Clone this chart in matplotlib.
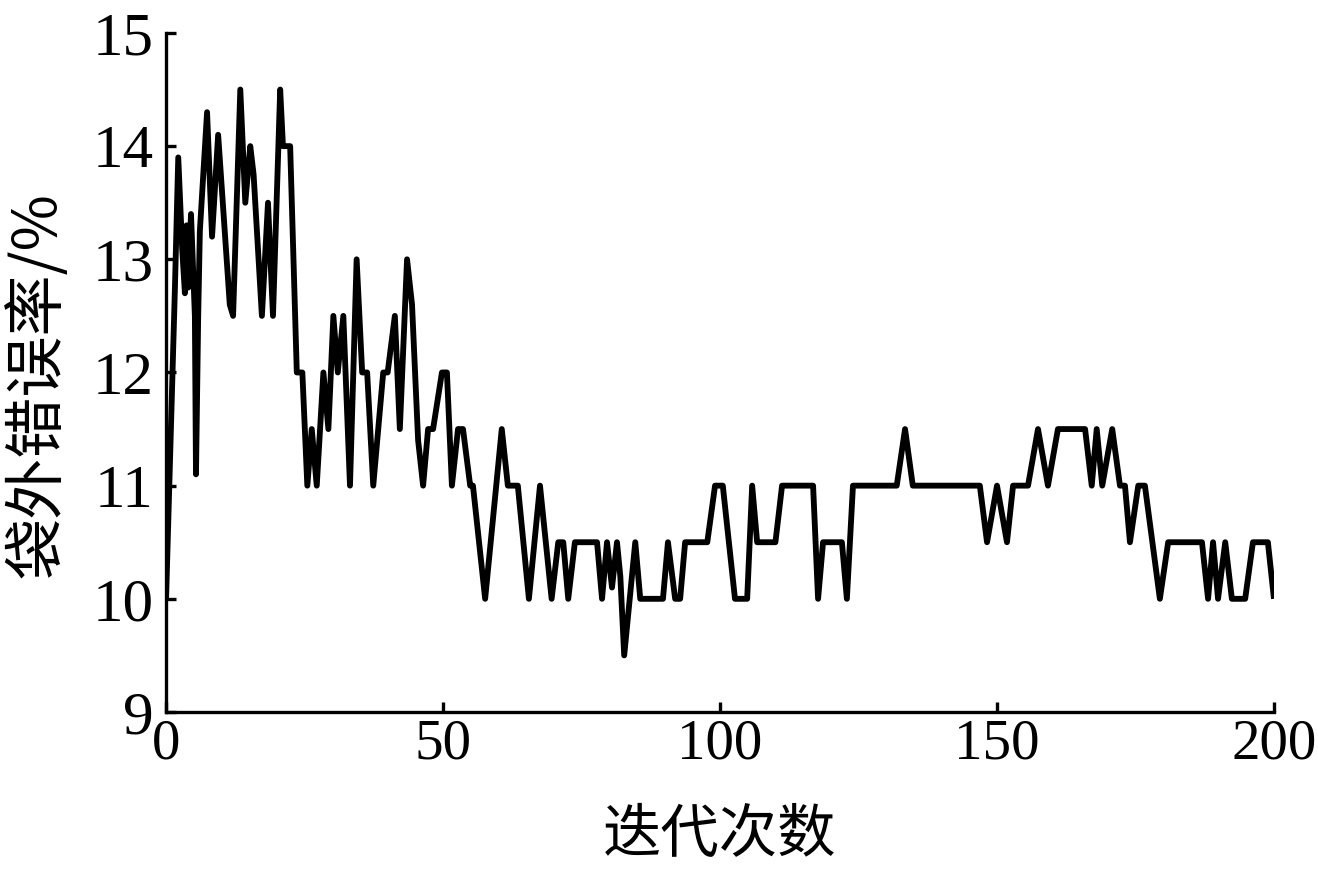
import matplotlib
matplotlib.use("Agg")
import matplotlib.pyplot as plt

# vertices of the OOB-error curve
ITER = [0, 0.7, 1.6, 2.2, 2.9, 3.4, 3.7, 4.0, 4.5, 5.2,
        5.4, 5.8, 6.1, 7.4, 8.3, 9.4, 10.1, 11.5, 12.1, 13.4,
        14.3, 15.2, 15.8, 17.3, 18.4, 19.3, 20.6, 21.1, 22.4, 23.6,
        24.6, 25.5, 26.3, 27.2, 28.4, 29.3, 30.2, 31.0, 32.0, 33.2,
        34.4, 35.4, 36.3, 37.4, 39.2, 40.0, 41.3, 42.2, 43.5, 44.4,
        45.5, 46.4, 47.3, 48.2, 49.8, 50.7, 51.6, 52.7, 53.6, 54.9,
        55.4, 57.6, 60.6, 61.7, 63.5, 65.5, 67.5, 69.6, 70.8, 71.7,
        72.6, 73.8, 77.8, 78.7, 79.6, 80.5, 81.4, 82.0, 82.7, 84.7,
        85.6, 89.7, 90.6, 91.9, 92.8, 93.7, 97.7, 99.1, 100.5, 102.7,
        104.9, 105.8, 106.7, 110.0, 111.2, 116.8, 117.7, 118.6, 122.0, 122.9,
        124.0, 131.9, 133.4, 134.8, 146.9, 148.2, 150.0, 151.8, 152.9, 155.6,
        157.4, 159.2, 161.0, 165.9, 167.1, 168.0, 169.0, 170.8, 172.2, 173.1,
        174.0, 175.5, 176.7, 179.4, 180.9, 187.0, 188.1, 189.0, 189.9, 191.2,
        192.4, 194.8, 196.2, 198.9, 200.0]

OOB = [10, 11.2, 12.75, 13.9, 13.1, 12.7, 13.3, 12.75, 13.4, 12.5,
       11.1, 12.5, 13.25, 14.3, 13.2, 14.1, 13.6, 12.6, 12.5, 14.5,
       13.5, 14.0, 13.75, 12.5, 13.5, 12.5, 14.5, 14.0, 14.0, 12.0,
       12.0, 11.0, 11.5, 11.0, 12.0, 11.5, 12.5, 12.0, 12.5, 11.0,
       13.0, 12.0, 12.0, 11.0, 12.0, 12.0, 12.5, 11.5, 13.0, 12.6,
       11.4, 11.0, 11.5, 11.5, 12.0, 12.0, 11.0, 11.5, 11.5, 11.0,
       11.0, 10.0, 11.5, 11.0, 11.0, 10.0, 11.0, 10.0, 10.5, 10.5,
       10.0, 10.5, 10.5, 10.0, 10.5, 10.1, 10.5, 10.2, 9.5, 10.5,
       10.0, 10.0, 10.5, 10.0, 10.0, 10.5, 10.5, 11.0, 11.0, 10.0,
       10.0, 11.0, 10.5, 10.5, 11.0, 11.0, 10.0, 10.5, 10.5, 10.0,
       11.0, 11.0, 11.5, 11.0, 11.0, 10.5, 11.0, 10.5, 11.0, 11.0,
       11.5, 11.0, 11.5, 11.5, 11.0, 11.5, 11.0, 11.5, 11.0, 11.0,
       10.5, 11.0, 11.0, 10.0, 10.5, 10.5, 10.0, 10.5, 10.0, 10.5,
       10.0, 10.0, 10.5, 10.5, 10.0]

XTICKS = [0, 50, 100, 150, 200]
YTICKS = [9, 10, 11, 12, 13, 14, 15]
XLABEL = "迭代次数"
YLABEL = "袋外错误率/%"

CJK = ["Noto Sans CJK SC", "DejaVu Sans"]
SERIF = ["Liberation Serif", "DejaVu Serif"]

assert len(ITER) == len(OOB)

fig = plt.figure(figsize=(13.18, 8.72), dpi=100)
ax = fig.add_axes([0.126, 0.1835, 0.8406, 0.7787])

ax.plot(ITER, OOB, color="black", linewidth=4.2, solid_joinstyle="round",
        solid_capstyle="butt")

ax.set_xlim(0, 200)
ax.set_ylim(9, 15)
ax.set_xticks(XTICKS)
ax.set_yticks(YTICKS)
for side in ("top", "right"):
    ax.spines[side].set_visible(False)
for side in ("left", "bottom"):
    ax.spines[side].set_linewidth(2.4)
ax.tick_params(direction="in", length=7, width=2.4)
ax.tick_params(axis="x", pad=5)
ax.tick_params(axis="y", pad=9)
for lab in ax.get_xticklabels():
    lab.set_family(SERIF)
    lab.set_fontsize(41)
for lab in ax.get_yticklabels():
    lab.set_family(SERIF)
    lab.set_fontsize(44)

fig.text(720 / 1318, 1 - 835 / 872, XLABEL, ha="center", va="center",
         fontsize=42, family=CJK)
fig.text(38 / 1318, 1 - 385 / 872, YLABEL, ha="center", va="center",
         rotation=90, fontsize=44, family=CJK)

fig.savefig("out.png")
